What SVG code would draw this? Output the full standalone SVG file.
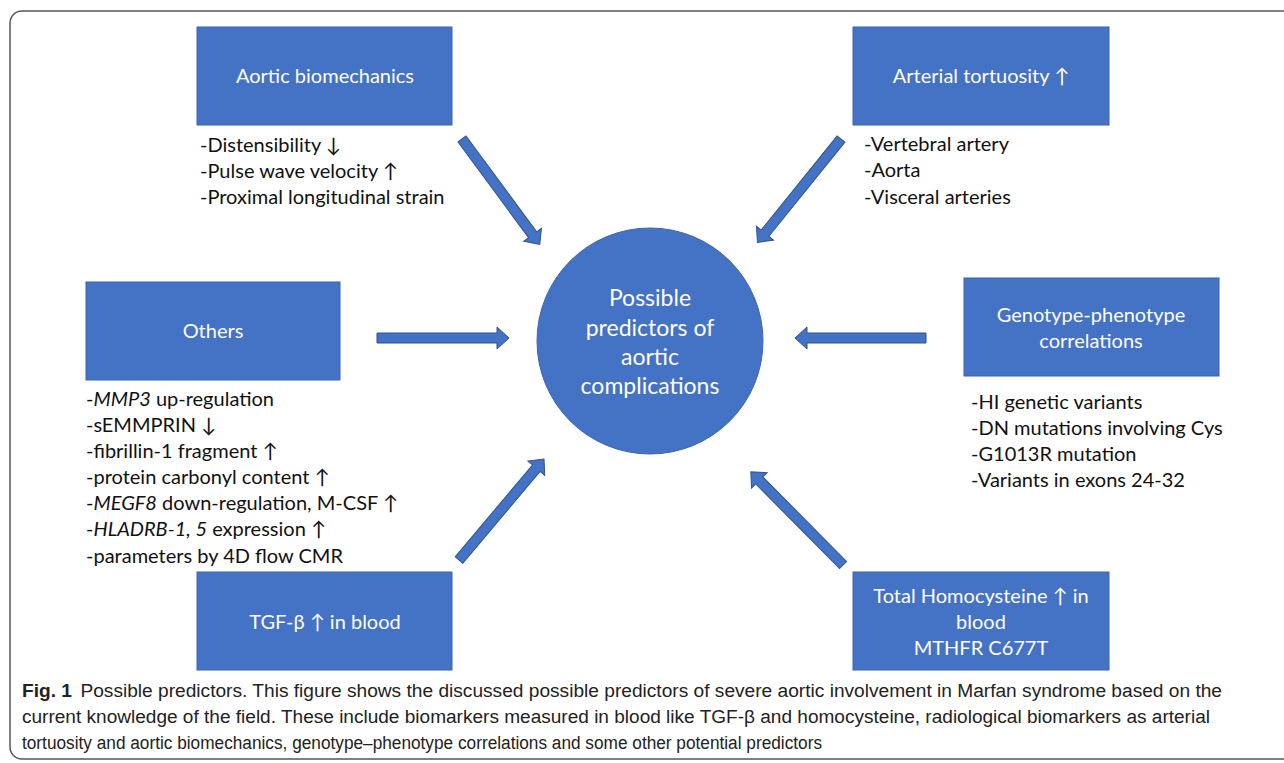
<svg xmlns="http://www.w3.org/2000/svg" width="1284" height="763" viewBox="0 0 1284 763">
<style>
.box{fill:#4472C4;stroke:#3B65B0;stroke-width:1}
.arr{fill:#4472C4;stroke:#2F528F;stroke-width:1}
.bt{font-family:Lato,"Open Sans",sans-serif;font-size:20px;fill:#fff;text-anchor:middle}
.ct{font-family:Lato,"Open Sans",sans-serif;font-size:23px;fill:#fff;text-anchor:middle}
.lt{font-family:Lato,"Open Sans",sans-serif;font-size:20px;fill:#111}
.cap{font-family:"Liberation Sans",Arial,sans-serif;font-size:18px;fill:#222}
</style>
<rect x="10" y="11" width="1290" height="748" rx="12" fill="none" stroke="#555" stroke-width="1.5"/>
<g id="connectors">
<polygon class="arr" transform="translate(462,139) rotate(53.6)" points="0,-5 119,-5 119,-11 131,0 119,11 119,5 0,5"/>
<polygon class="arr" transform="translate(841,139) rotate(128.9)" points="0,-5 121,-5 121,-11 133,0 121,11 121,5 0,5"/>
<polygon class="arr" transform="translate(377,338) rotate(0)" points="0,-5 120,-5 120,-11 132,0 120,11 120,5 0,5"/>
<polygon class="arr" transform="translate(926,338) rotate(180)" points="0,-5 119,-5 119,-11 131,0 119,11 119,5 0,5"/>
<polygon class="arr" transform="translate(459,560) rotate(-49.9)" points="0,-5 120,-5 120,-11 132,0 120,11 120,5 0,5"/>
<polygon class="arr" transform="translate(843,565) rotate(-134.7)" points="0,-5 119,-5 119,-11 131,0 119,11 119,5 0,5"/>
</g>
<g id="center">
<circle class="box" cx="650" cy="341" r="113"/>
<text class="ct" x="650" y="306">Possible</text>
<text class="ct" x="650" y="336">predictors of</text>
<text class="ct" x="650" y="365">aortic</text>
<text class="ct" x="650" y="394">complications</text>
</g>
<g id="aortic-biomechanics">
<rect class="box" x="197" y="27" width="255" height="98"/>
<text class="bt" x="325" y="83">Aortic biomechanics</text>
<text class="lt" x="200" y="152">-Distensibility ↓</text>
<text class="lt" x="200" y="178">-Pulse wave velocity ↑</text>
<text class="lt" x="200" y="204">-Proximal longitudinal strain</text>
</g>
<g id="arterial-tortuosity">
<rect class="box" x="853" y="27" width="256" height="98"/>
<text class="bt" x="981" y="83">Arterial tortuosity ↑</text>
<text class="lt" x="864" y="151">-Vertebral artery</text>
<text class="lt" x="864" y="177">-Aorta</text>
<text class="lt" x="864" y="204">-Visceral arteries</text>
</g>
<g id="others">
<rect class="box" x="86" y="282" width="254" height="98"/>
<text class="bt" x="213" y="338">Others</text>
<text class="lt" x="86" y="406">-<tspan font-style="italic">MMP3</tspan> up-regulation</text>
<text class="lt" x="86" y="432">-sEMMPRIN ↓</text>
<text class="lt" x="86" y="458">-fibrillin-1 fragment ↑</text>
<text class="lt" x="86" y="484">-protein carbonyl content ↑</text>
<text class="lt" x="86" y="510">-<tspan font-style="italic">MEGF8</tspan> down-regulation, M-CSF ↑</text>
<text class="lt" x="86" y="536">-<tspan font-style="italic">HLADRB-1, 5</tspan> expression ↑</text>
<text class="lt" x="86" y="563">-parameters by 4D flow CMR</text>
</g>
<g id="genotype-phenotype">
<rect class="box" x="964" y="278" width="255" height="98"/>
<text class="bt" x="1091" y="322">Genotype-phenotype</text>
<text class="bt" x="1091" y="348">correlations</text>
<text class="lt" x="971" y="409">-HI genetic variants</text>
<text class="lt" x="971" y="435">-DN mutations involving Cys</text>
<text class="lt" x="971" y="461">-G1013R mutation</text>
<text class="lt" x="971" y="487">-Variants in exons 24-32</text>
</g>
<g id="tgf-beta">
<rect class="box" x="197" y="572" width="255" height="98"/>
<text class="bt" x="325" y="629">TGF-β ↑ in blood</text>
</g>
<g id="homocysteine">
<rect class="box" x="853" y="572" width="256" height="98"/>
<text class="bt" x="981" y="603">Total Homocysteine ↑ in</text>
<text class="bt" x="981" y="629">blood</text>
<text class="bt" x="981" y="655">MTHFR C677T</text>
</g>
<g id="caption">
<text class="cap" x="22" y="697" textLength="1200" lengthAdjust="spacingAndGlyphs"><tspan font-weight="bold">Fig. 1</tspan><tspan dx="8">Possible predictors. This figure shows the discussed possible predictors of severe aortic involvement in Marfan syndrome based on the</tspan></text>
<text class="cap" x="22" y="723" textLength="1188" lengthAdjust="spacingAndGlyphs">current knowledge of the field. These include biomarkers measured in blood like TGF-β and homocysteine, radiological biomarkers as arterial</text>
<text class="cap" x="22" y="749" textLength="800" lengthAdjust="spacingAndGlyphs">tortuosity and aortic biomechanics, genotype–phenotype correlations and some other potential predictors</text>
</g>
</svg>
